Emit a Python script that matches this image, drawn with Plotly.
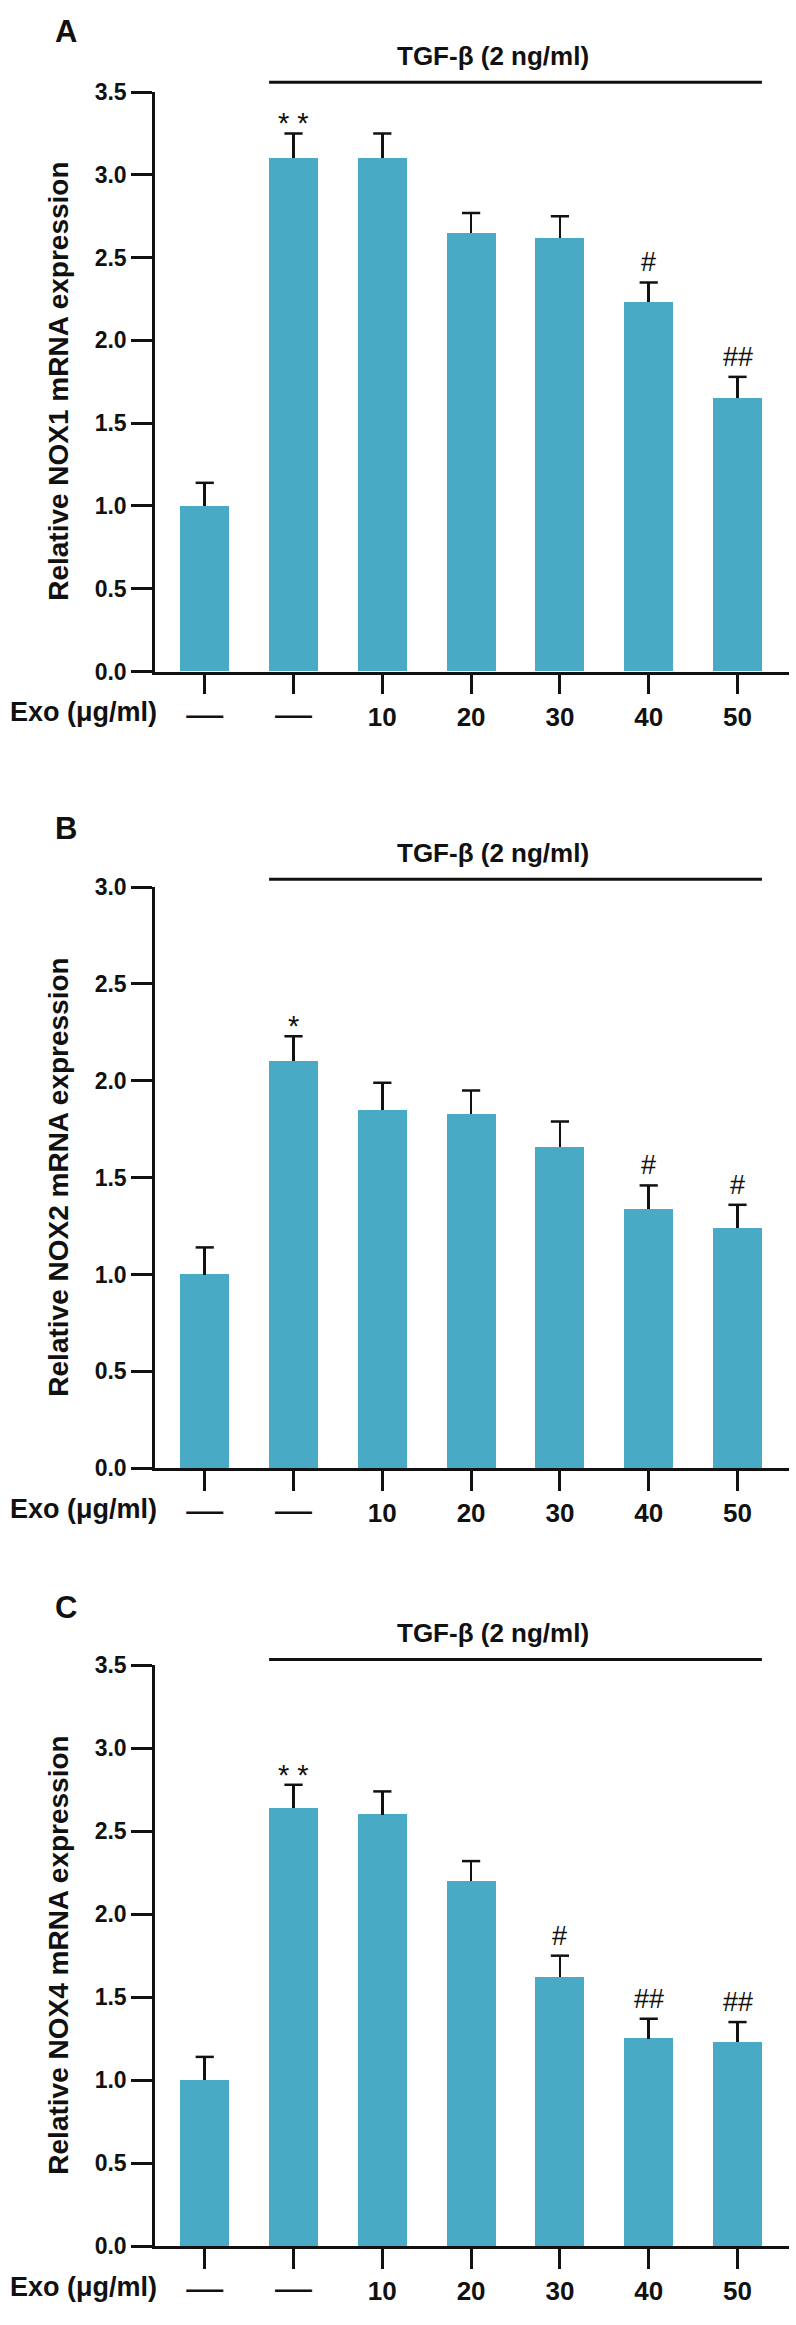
import plotly.graph_objects as go

W, H = 796, 2325

# ---------------- data ----------------
categories = ["—", "—", "10", "20", "30", "40", "50"]

nox1 = [1.00, 3.10, 3.10, 2.65, 2.62, 2.23, 1.65]
nox1_err = [0.14, 0.15, 0.15, 0.12, 0.13, 0.12, 0.13]
nox1_marks = ["", "* *", "", "", "", "#", "##"]

nox2 = [1.00, 2.10, 1.85, 1.83, 1.66, 1.34, 1.24]
nox2_err = [0.14, 0.13, 0.14, 0.12, 0.13, 0.12, 0.12]
nox2_marks = ["", "*", "", "", "", "#", "#"]

nox4 = [1.00, 2.64, 2.60, 2.20, 1.62, 1.25, 1.23]
nox4_err = [0.14, 0.14, 0.14, 0.12, 0.13, 0.12, 0.12]
nox4_marks = ["", "* *", "", "", "#", "##", "##"]

genes = ["NOX1", "NOX2", "NOX4"]
panel_letters = ["A", "B", "C"]
y_max = [3.5, 3.0, 3.5]
treatment_label = "TGF-β (2 ng/ml)"
dose_label = "Exo (μg/ml)"

# ---------------- layout geometry (pixels) ----------------
FONT = "Liberation Sans, Arial, sans-serif"
BAR_COLOR = "#49AAC5"
INK = "#111111"
BAR_W = 0.55

panels = [
    dict(v=nox1, e=nox1_err, m=nox1_marks, top=80, bottom=666, line=70, letter_y=18.5),
    dict(v=nox2, e=nox2_err, m=nox2_marks, top=884, bottom=1471.7, line=876, letter_y=825),
    dict(v=nox4, e=nox4_err, m=nox4_marks, top=1671, bottom=2258.3, line=1665, letter_y=1613),
]


def fx(p):
    return p / W


def fy(p):
    return 1 - p / H


def tick_text(lbl):
    if lbl == "—":
        return '<span style="font-size:37px;font-weight:normal">—</span>'
    return lbl


fig = go.Figure()
annotations = []
shapes = []
x_idx = list(range(len(categories)))

for k, p in enumerate(panels):
    sfx = "" if k == 0 else str(k + 1)
    xa, ya = "x" + sfx, "y" + sfx
    tops = [v + e for v, e in zip(p["v"], p["e"])]

    fig.add_trace(go.Bar(
        x=x_idx, y=p["v"], width=BAR_W, xaxis=xa, yaxis=ya,
        marker=dict(color=BAR_COLOR, line=dict(width=0)),
        error_y=dict(type="data", symmetric=False, array=p["e"],
                     arrayminus=[0] * len(p["e"]), width=0,
                     thickness=2.5, color=INK),
        showlegend=False, hoverinfo="skip",
    ))
    fig.add_trace(go.Scatter(
        x=x_idx, y=tops, xaxis=xa, yaxis=ya, mode="markers",
        marker=dict(symbol="line-ew", size=13, color=INK,
                    line=dict(width=2.5, color=INK)),
        showlegend=False, hoverinfo="skip",
    ))

    ymax = y_max[k]
    n_ticks = int(round(ymax / 0.5)) + 1
    yt = [i * 0.5 for i in range(n_ticks)]

    fig.update_layout(**{
        "xaxis" + sfx: dict(
            domain=[fx(155), fx(789)], range=[-0.56, 6.58], anchor=ya,
            showline=True, linewidth=2.5, linecolor=INK,
            ticks="outside", ticklen=20, tickwidth=2.5, tickcolor=INK,
            tickvals=x_idx, ticktext=[tick_text(c) for c in categories],
            tickfont=dict(family=FONT, size=26, color=INK, weight="bold"),
            showgrid=False, zeroline=False, fixedrange=True,
        ),
        "yaxis" + sfx: dict(
            domain=[fy(p["bottom"]), fy(p["top"])], range=[0, ymax], anchor=xa,
            showline=True, linewidth=2.5, linecolor=INK,
            ticks="outside", ticklen=21, tickwidth=2.5, tickcolor=INK,
            tickvals=yt, ticktext=["%.1f" % t for t in yt],
            tickfont=dict(family=FONT, size=23, color=INK, weight="bold"),
            showgrid=False, zeroline=False, fixedrange=True,
        ),
    })

    # significance marks
    for i, mk in enumerate(p["m"]):
        if not mk:
            continue
        star = "*" in mk
        annotations.append(dict(
            x=i, y=tops[i], xref=xa, yref=ya, text=mk, showarrow=False,
            xanchor="center", yanchor="middle",
            yshift=10 if star else 20,
            font=dict(family=FONT, size=29 if star else 27, color=INK),
        ))

    # treatment bar + label
    shapes.append(dict(
        type="line", xref=xa, yref="paper",
        x0=1 - BAR_W / 2, x1=6 + BAR_W / 2,
        y0=fy(p["line"]), y1=fy(p["line"]),
        line=dict(color=INK, width=3),
    ))
    annotations.append(dict(
        x=fx(493), y=fy(p["line"] - 27), xref="paper", yref="paper",
        text=treatment_label, showarrow=False, xanchor="center", yanchor="middle",
        font=dict(family=FONT, size=26, color=INK, weight="bold"),
    ))

    # y-axis title
    annotations.append(dict(
        x=fx(59), y=fy((p["top"] + p["bottom"]) / 2), xref="paper", yref="paper",
        text="Relative %s mRNA expression" % genes[k], textangle=-90,
        showarrow=False, xanchor="center", yanchor="middle",
        font=dict(family=FONT, size=28, color=INK, weight="bold"),
    ))

    # dose row label
    annotations.append(dict(
        x=fx(159), y=fy(p["bottom"] + 41), xref="paper", yref="paper",
        text=dose_label, showarrow=False, xanchor="right", yanchor="middle",
        font=dict(family=FONT, size=27, color=INK, weight="bold"),
    ))

    # panel letter
    annotations.append(dict(
        x=fx(66), y=fy(p["letter_y"]), xref="paper", yref="paper",
        text=panel_letters[k], showarrow=False, xanchor="center", yanchor="middle",
        font=dict(family=FONT, size=31, color=INK, weight="bold"),
    ))

fig.update_layout(
    width=W, height=H, margin=dict(l=0, r=0, t=0, b=0),
    paper_bgcolor="white", plot_bgcolor="white",
    bargap=0, annotations=annotations, shapes=shapes, showlegend=False,
)

fig.write_html(
    "out.html", include_plotlyjs=True, config={"displayModeBar": False},
    post_script="document.body.style.margin='0';document.body.style.overflow='hidden';",
)
